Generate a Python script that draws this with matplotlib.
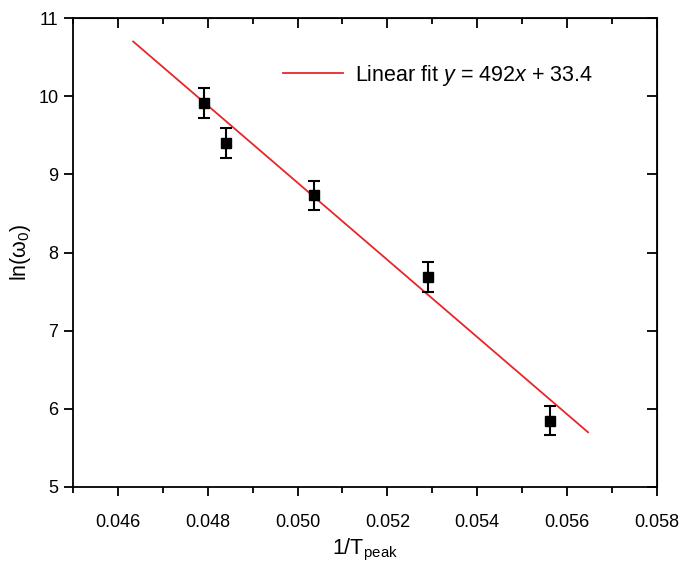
import numpy as np
import matplotlib
matplotlib.use("Agg")
import matplotlib.pyplot as plt
from matplotlib.ticker import MultipleLocator

# --- Data ---
inv_tpeak = [0.04791, 0.04840, 0.05036, 0.05291, 0.05562]
ln_omega0 = [9.91, 9.40, 8.73, 7.69, 5.85]
ln_err = [0.19, 0.19, 0.19, 0.19, 0.19]

# linear fit line end points
fit_x = [0.04634, 0.05647]
fit_y = [10.70, 5.70]
fit_label = "Linear fit $y$ = 492$x$ + 33.4"

xticks = [0.046, 0.048, 0.050, 0.052, 0.054, 0.056, 0.058]

# --- Style ---
plt.rcParams["font.family"] = ["Liberation Sans", "DejaVu Sans"]
plt.rcParams["mathtext.fontset"] = "custom"
plt.rcParams["mathtext.rm"] = "Liberation Sans"
plt.rcParams["mathtext.it"] = "Liberation Sans:italic"

fig = plt.figure(figsize=(6.82, 5.63), dpi=100)
ax = fig.add_axes([0.107, 0.135, 0.856, 0.833])

ax.plot(fit_x, fit_y, color="#e8262a", lw=1.3, label=fit_label)
ax.errorbar(inv_tpeak, ln_omega0, yerr=ln_err, fmt="s", color="black",
            ms=7.5, elinewidth=1.5, capsize=4, capthick=1.5, zorder=3)

ax.set_xlim(0.045, 0.058)
ax.set_ylim(5, 11)
ax.set_xticks(xticks)
ax.set_xticklabels([f"{v:.3f}" for v in xticks])
ax.xaxis.set_minor_locator(MultipleLocator(0.001))
ax.yaxis.set_major_locator(MultipleLocator(1))

for s in ax.spines.values():
    s.set_linewidth(1.3)

ax.tick_params(axis="x", which="major", direction="out", length=6.5, width=1.3,
               labelsize=13, pad=13)
ax.tick_params(axis="y", which="major", direction="out", length=6.5, width=1.3,
               labelsize=13, pad=4)
ax.tick_params(axis="x", which="minor", direction="out", length=4, width=1.3)

# inward ticks on top and right
axt = ax.secondary_xaxis("top")
axt.set_xticks(xticks)
axt.xaxis.set_minor_locator(MultipleLocator(0.001))
axt.tick_params(which="major", direction="in", length=7, width=1.3, labeltop=False)
axt.tick_params(which="minor", direction="in", length=4, width=1.3)
axr = ax.secondary_yaxis("right")
axr.yaxis.set_major_locator(MultipleLocator(1))
axr.tick_params(which="major", direction="in", length=7, width=1.3, labelright=False)

ax.set_xlabel("1/T$_\\mathrm{peak}$", fontsize=15.5, labelpad=4)
ax.set_ylabel("ln(ω$_0$)", fontsize=15.5, labelpad=4)

ax.legend(loc="upper left", bbox_to_anchor=(0.326, 0.946), frameon=False,
          fontsize=15.5, handlelength=2.8, handletextpad=0.55)

fig.savefig("out.png", dpi=100)
